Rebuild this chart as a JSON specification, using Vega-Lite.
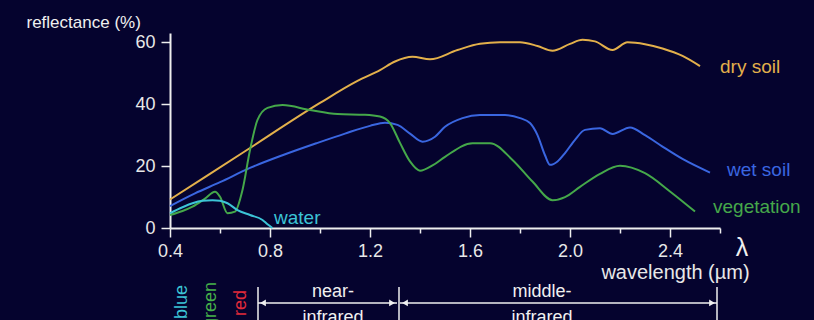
{
  "$schema": "https://vega.github.io/schema/vega-lite/v6.json",
  "width": 550,
  "height": 195,
  "autosize": {"type": "none"},
  "padding": {"left": 170, "top": 33, "right": 94, "bottom": 92},
  "background": "#05032e",
  "config": {"view": {"stroke": null}, "font": "Liberation Sans", "text": {"font": "Liberation Sans"}},
  "datasets": {
    "curves": [
      {"series": "dry soil", "x": 0.4, "y": 9.2},
      {"series": "dry soil", "x": 0.7, "y": 24.8},
      {"series": "dry soil", "x": 1.0, "y": 40.4},
      {"series": "dry soil", "x": 1.15, "y": 47.5},
      {"series": "dry soil", "x": 1.24, "y": 51.0},
      {"series": "dry soil", "x": 1.3, "y": 53.8},
      {"series": "dry soil", "x": 1.37, "y": 55.3},
      {"series": "dry soil", "x": 1.44, "y": 54.5},
      {"series": "dry soil", "x": 1.55, "y": 57.5},
      {"series": "dry soil", "x": 1.64, "y": 59.5},
      {"series": "dry soil", "x": 1.72, "y": 60.0},
      {"series": "dry soil", "x": 1.8, "y": 60.0},
      {"series": "dry soil", "x": 1.87, "y": 58.8},
      {"series": "dry soil", "x": 1.93, "y": 57.3},
      {"series": "dry soil", "x": 2.0, "y": 59.5},
      {"series": "dry soil", "x": 2.05, "y": 60.8},
      {"series": "dry soil", "x": 2.1, "y": 60.3},
      {"series": "dry soil", "x": 2.17, "y": 57.5},
      {"series": "dry soil", "x": 2.23, "y": 60.0},
      {"series": "dry soil", "x": 2.3, "y": 59.4},
      {"series": "dry soil", "x": 2.37, "y": 58.0},
      {"series": "dry soil", "x": 2.45, "y": 55.6},
      {"series": "dry soil", "x": 2.52, "y": 52.3},
      {"series": "wet soil", "x": 0.4, "y": 7.1},
      {"series": "wet soil", "x": 0.5, "y": 11.2},
      {"series": "wet soil", "x": 0.6, "y": 14.8},
      {"series": "wet soil", "x": 0.72, "y": 19.4},
      {"series": "wet soil", "x": 0.85, "y": 23.5},
      {"series": "wet soil", "x": 0.99, "y": 27.5},
      {"series": "wet soil", "x": 1.1, "y": 30.5},
      {"series": "wet soil", "x": 1.2, "y": 33.0},
      {"series": "wet soil", "x": 1.26, "y": 34.0},
      {"series": "wet soil", "x": 1.31, "y": 33.3},
      {"series": "wet soil", "x": 1.36, "y": 30.5},
      {"series": "wet soil", "x": 1.41, "y": 27.9},
      {"series": "wet soil", "x": 1.46, "y": 29.5},
      {"series": "wet soil", "x": 1.5, "y": 32.7},
      {"series": "wet soil", "x": 1.57, "y": 35.5},
      {"series": "wet soil", "x": 1.64, "y": 36.5},
      {"series": "wet soil", "x": 1.74, "y": 36.5},
      {"series": "wet soil", "x": 1.8, "y": 35.5},
      {"series": "wet soil", "x": 1.84, "y": 33.9},
      {"series": "wet soil", "x": 1.87, "y": 30.0},
      {"series": "wet soil", "x": 1.9, "y": 23.5},
      {"series": "wet soil", "x": 1.92, "y": 20.4},
      {"series": "wet soil", "x": 1.95, "y": 21.5},
      {"series": "wet soil", "x": 1.98, "y": 24.2},
      {"series": "wet soil", "x": 2.02, "y": 28.5},
      {"series": "wet soil", "x": 2.06, "y": 31.7},
      {"series": "wet soil", "x": 2.12, "y": 32.2},
      {"series": "wet soil", "x": 2.17, "y": 30.4},
      {"series": "wet soil", "x": 2.24, "y": 32.5},
      {"series": "wet soil", "x": 2.3, "y": 30.0},
      {"series": "wet soil", "x": 2.37, "y": 26.3},
      {"series": "wet soil", "x": 2.45, "y": 22.3},
      {"series": "wet soil", "x": 2.56, "y": 17.9},
      {"series": "vegetation", "x": 0.4, "y": 4.2},
      {"series": "vegetation", "x": 0.45, "y": 5.5},
      {"series": "vegetation", "x": 0.49, "y": 6.9},
      {"series": "vegetation", "x": 0.54, "y": 9.5},
      {"series": "vegetation", "x": 0.58, "y": 11.7},
      {"series": "vegetation", "x": 0.6, "y": 10.1},
      {"series": "vegetation", "x": 0.63, "y": 4.8},
      {"series": "vegetation", "x": 0.66, "y": 5.3},
      {"series": "vegetation", "x": 0.69, "y": 12.3},
      {"series": "vegetation", "x": 0.72, "y": 25.2},
      {"series": "vegetation", "x": 0.75, "y": 34.9},
      {"series": "vegetation", "x": 0.79, "y": 38.8},
      {"series": "vegetation", "x": 0.85, "y": 39.7},
      {"series": "vegetation", "x": 0.96, "y": 38.1},
      {"series": "vegetation", "x": 1.07, "y": 36.8},
      {"series": "vegetation", "x": 1.18, "y": 36.6},
      {"series": "vegetation", "x": 1.24, "y": 36.0},
      {"series": "vegetation", "x": 1.28, "y": 33.9},
      {"series": "vegetation", "x": 1.32, "y": 27.5},
      {"series": "vegetation", "x": 1.36, "y": 21.5},
      {"series": "vegetation", "x": 1.4, "y": 18.5},
      {"series": "vegetation", "x": 1.45, "y": 20.2},
      {"series": "vegetation", "x": 1.5, "y": 23.0},
      {"series": "vegetation", "x": 1.61, "y": 27.4},
      {"series": "vegetation", "x": 1.68, "y": 27.4},
      {"series": "vegetation", "x": 1.77, "y": 22.0},
      {"series": "vegetation", "x": 1.85, "y": 15.0},
      {"series": "vegetation", "x": 1.93, "y": 9.0},
      {"series": "vegetation", "x": 1.98, "y": 10.0},
      {"series": "vegetation", "x": 2.04, "y": 13.3},
      {"series": "vegetation", "x": 2.12, "y": 17.5},
      {"series": "vegetation", "x": 2.2, "y": 20.1},
      {"series": "vegetation", "x": 2.3, "y": 17.7},
      {"series": "vegetation", "x": 2.4, "y": 11.8},
      {"series": "vegetation", "x": 2.5, "y": 5.3},
      {"series": "water", "x": 0.4, "y": 4.8},
      {"series": "water", "x": 0.45, "y": 6.7},
      {"series": "water", "x": 0.49, "y": 8.0},
      {"series": "water", "x": 0.53, "y": 8.8},
      {"series": "water", "x": 0.57, "y": 9.0},
      {"series": "water", "x": 0.6, "y": 8.8},
      {"series": "water", "x": 0.63, "y": 8.0},
      {"series": "water", "x": 0.67, "y": 5.8},
      {"series": "water", "x": 0.72, "y": 4.2},
      {"series": "water", "x": 0.77, "y": 2.6},
      {"series": "water", "x": 0.79, "y": 1.2},
      {"series": "water", "x": 0.81, "y": 0.0}
    ],
    "seriesLabels": [
      {"series": "dry soil", "x": 2.6, "y": 52.0},
      {"series": "wet soil", "x": 2.628, "y": 18.7},
      {"series": "vegetation", "x": 2.572, "y": 6.8},
      {"series": "water", "x": 0.816, "y": 3.2}
    ],
    "bands": [
      {"series": "blue", "x": 0.448, "y": -18.4},
      {"series": "green", "x": 0.564, "y": -17.4},
      {"series": "red", "x": 0.684, "y": -20.0}
    ],
    "regionText": [
      {"text": "near-", "x": 1.052, "y": -22.3},
      {"text": "infrared", "x": 1.052, "y": -30.7},
      {"text": "middle-", "x": 1.888, "y": -22.3},
      {"text": "infrared", "x": 1.888, "y": -30.7}
    ],
    "lambda": [
      {"text": "λ", "x": 2.688, "y": -6.5}
    ],
    "arrows": [
      {"x": 0.752, "x2": 1.308, "y": -24.2},
      {"x": 1.32, "x2": 2.588, "y": -24.2}
    ],
    "bars": [
      {"x": 0.752, "y": -19.1, "y2": -32},
      {"x": 1.316, "y": -19.1, "y2": -32},
      {"x": 2.588, "y": -19.1, "y2": -32}
    ],
    "heads": [
      {"dir": "left", "x": 0.772, "y": -24.2},
      {"dir": "right", "x": 1.288, "y": -24.2},
      {"dir": "left", "x": 1.34, "y": -24.2},
      {"dir": "right", "x": 2.568, "y": -24.2}
    ]
  },
  "layer": [
    {
      "data": {"name": "curves"},
      "mark": {"type": "line", "interpolate": "monotone", "strokeWidth": 2},
      "encoding": {
        "x": {
          "field": "x", "type": "quantitative",
          "scale": {"domain": [0.4, 2.6], "nice": false, "zero": false},
          "axis": {
            "values": [0.4, 0.5, 0.6, 0.7, 0.8, 0.9, 1.0, 1.1, 1.2, 1.3, 1.4, 1.5, 1.6, 1.7, 1.8, 1.9, 2.0, 2.1, 2.2, 2.3, 2.4, 2.5, 2.6],
            "labelExpr": "round(datum.value*10) % 4 == 0 ? format(datum.value, '.1f') : ''",
            "tickSize": {"condition": {"test": "round(datum.value*10) % 4 == 0", "value": 9}, "value": 5},
            "tickColor": "#eeeeee", "tickWidth": 1.5,
            "domainColor": "#eeeeee", "domainWidth": 2,
            "labelColor": "#e8e8e8", "labelFontSize": 18, "labelFont": "Liberation Sans",
            "labelPadding": 5, "labelFlush": false, "labelOverlap": false, "grid": false,
            "title": "wavelength (µm)",
            "titleX": 505, "titleY": 44, "titleAlign": "center", "titleBaseline": "middle",
            "titleFontSize": 20, "titleFontWeight": "normal", "titleColor": "#e8e8e8", "titleFont": "Liberation Sans"
          }
        },
        "y": {
          "field": "y", "type": "quantitative",
          "scale": {"domain": [0, 63], "nice": false},
          "axis": {
            "values": [0, 10, 20, 30, 40, 50, 60],
            "labelExpr": "datum.value % 20 == 0 ? datum.label : ''",
            "tickSize": {"condition": {"test": "datum.value % 20 == 0", "value": 9}, "value": 6},
            "tickColor": "#eeeeee", "tickWidth": 1.5,
            "domainColor": "#eeeeee", "domainWidth": 2,
            "labelColor": "#e8e8e8", "labelFontSize": 18, "labelFont": "Liberation Sans",
            "labelPadding": 6, "labelOverlap": false, "grid": false,
            "title": "reflectance (%)",
            "titleAngle": 0, "titleX": -144, "titleY": -11, "titleAlign": "left", "titleBaseline": "middle",
            "titleFontSize": 17, "titleFontWeight": "normal", "titleColor": "#f0f0f0", "titleFont": "Liberation Sans"
          }
        },
        "color": {
          "field": "series", "type": "nominal",
          "scale": {
            "domain": ["dry soil", "wet soil", "vegetation", "water", "blue", "green", "red"],
            "range": ["#e3b04b", "#3a66e0", "#45a84a", "#3cc4d6", "#3cc4d6", "#45b04a", "#e02a3a"]
          },
          "legend": null
        }
      }
    },
    {
      "data": {"name": "seriesLabels"},
      "mark": {"type": "text", "align": "left", "baseline": "middle", "fontSize": 19},
      "encoding": {
        "x": {"field": "x", "type": "quantitative"},
        "y": {"field": "y", "type": "quantitative"},
        "text": {"field": "series"},
        "color": {"field": "series", "type": "nominal", "legend": null}
      }
    },
    {
      "data": {"name": "bands"},
      "mark": {"type": "text", "align": "right", "baseline": "middle", "angle": 270, "fontSize": 18},
      "encoding": {
        "x": {"field": "x", "type": "quantitative"},
        "y": {"field": "y", "type": "quantitative"},
        "text": {"field": "series"},
        "color": {"field": "series", "type": "nominal", "legend": null}
      }
    },
    {
      "data": {"name": "regionText"},
      "mark": {"type": "text", "align": "center", "baseline": "alphabetic", "fontSize": 18, "color": "#f0f0f0"},
      "encoding": {
        "x": {"field": "x", "type": "quantitative"},
        "y": {"field": "y", "type": "quantitative"},
        "text": {"field": "text"}
      }
    },
    {
      "data": {"name": "lambda"},
      "mark": {"type": "text", "align": "center", "baseline": "middle", "fontSize": 25, "color": "#f0f0f0"},
      "encoding": {
        "x": {"field": "x", "type": "quantitative"},
        "y": {"field": "y", "type": "quantitative"},
        "text": {"field": "text"}
      }
    },
    {
      "data": {"name": "arrows"},
      "mark": {"type": "rule", "color": "#f0f0f0", "strokeWidth": 1.5},
      "encoding": {
        "x": {"field": "x", "type": "quantitative"},
        "x2": {"field": "x2"},
        "y": {"field": "y", "type": "quantitative"}
      }
    },
    {
      "data": {"name": "bars"},
      "mark": {"type": "rule", "color": "#f0f0f0", "strokeWidth": 1.5},
      "encoding": {
        "x": {"field": "x", "type": "quantitative"},
        "y": {"field": "y", "type": "quantitative"},
        "y2": {"field": "y2"}
      }
    },
    {
      "data": {"name": "heads"},
      "mark": {"type": "point", "filled": true, "color": "#f0f0f0", "opacity": 1, "size": 45},
      "encoding": {
        "x": {"field": "x", "type": "quantitative"},
        "y": {"field": "y", "type": "quantitative"},
        "shape": {"field": "dir", "type": "nominal", "scale": {"domain": ["left", "right"], "range": ["triangle-left", "triangle-right"]}, "legend": null}
      }
    }
  ]
}
